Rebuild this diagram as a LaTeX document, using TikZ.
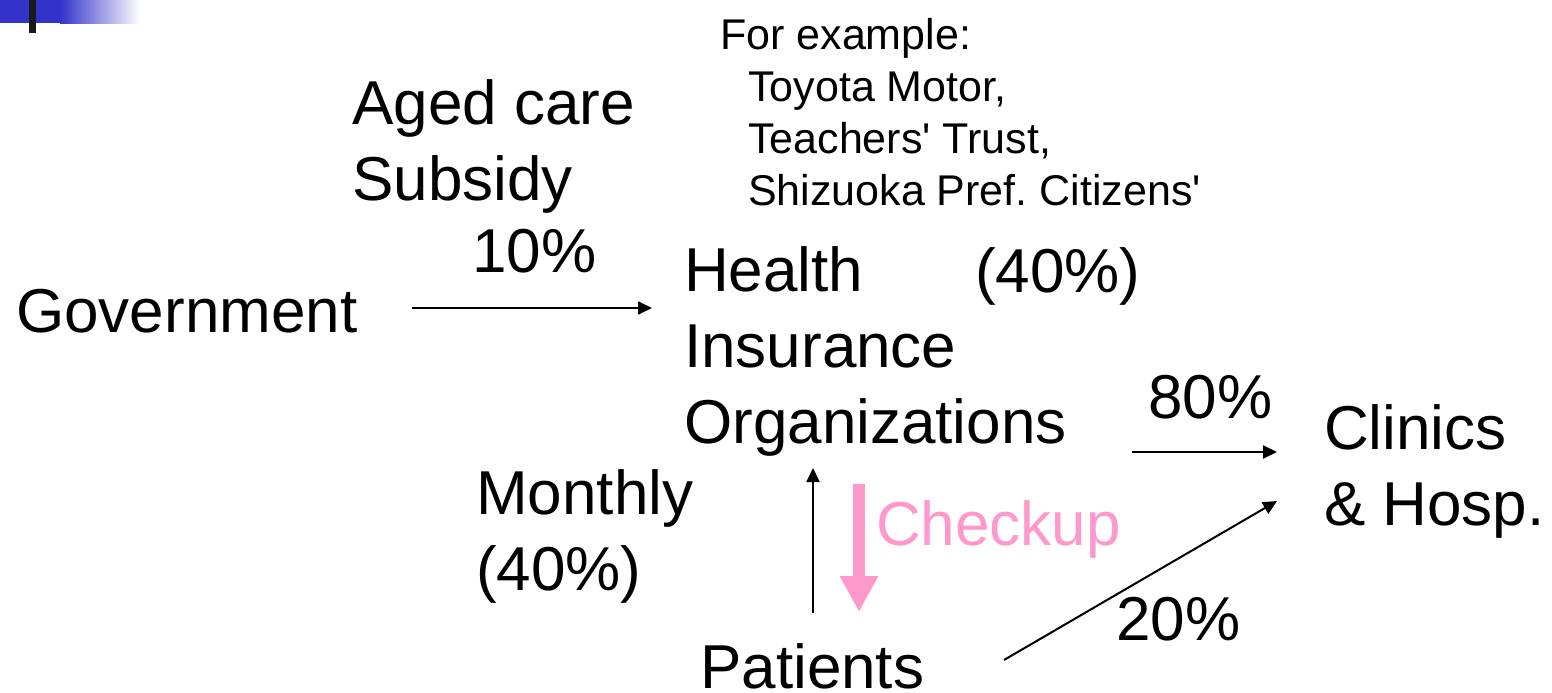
\documentclass[tikz,border=0pt]{standalone}
\usepackage{fontspec}
\setmainfont{Liberation Sans}
\usepackage{xcolor}
\usetikzlibrary{arrows.meta}
\definecolor{slideblue}{HTML}{3333CC}
\definecolor{checkpink}{HTML}{FF99CC}
\frenchspacing

\begin{document}
\begin{tikzpicture}[x=1pt,y=-1pt,
  big/.style={font=\fontsize{62}{76}\selectfont, inner sep=0pt, align=left, anchor=base west},
  small/.style={font=\fontsize{43}{52}\selectfont, inner sep=0pt, align=left, anchor=base west},
  flow/.style={line width=2pt, -{Triangle[length=14pt,width=13pt]}}]
\useasboundingbox (0,0) rectangle (1552,693);
% corner mark
\fill[slideblue] (0,0) rectangle (60,23);
\shade[left color=slideblue, right color=white] (60,0) rectangle (140,24);
\fill[black!90] (29,0) rectangle (36,33);

% labels (multi-line ones sit on the baseline of their last line)
\node[big] (gov) at (16,332) {Government};
\node[big] (subsidy) at (352,200) {Aged care\\Subsidy};
\node[big] (tenpct) at (472,272) {10\%};
\node[small] (example) at (720,205) {For example:\\\hspace*{28pt}Toyota Motor,\\\hspace*{28pt}Teachers\textquotesingle{} Trust,\\\hspace*{28pt}Shizuoka Pref. Citizens\textquotesingle};
\node[big] (hio) at (684,443) {Health\\Insurance\\Organizations};
\node[big] (share) at (975,292) {(40\%)};
\node[big] (eightypct) at (1148,418) {80\%};
\node[big] (clinics) at (1324,525) {Clinics\\\& Hosp.};
\node[big] (monthly) at (476,590) {Monthly\\(40\%)};
\node[big, text=checkpink] (checkup) at (876,545) {Checkup};
\node[big] (twentypct) at (1116,640) {20\%};
\node[big] (patients) at (700,688) {Patients};

% arrow ends
\coordinate (govR) at (412,308);
\coordinate (hioL) at (652,308);
\coordinate (hioR) at (1132,452);
\coordinate (clinL) at (1277,452);
\coordinate (patUp) at (813,613);
\coordinate (hioB) at (813,468);
\coordinate (chkTop) at (859,484);
\coordinate (chkBot) at (859,612);
\coordinate (patR) at (1004,660);
\coordinate (clinBL) at (1277,501);

% money flows
\draw[flow] (govR) -- (hioL);
\draw[flow] (hioR) -- (clinL);
\draw[flow] (patUp) -- (hioB);
\draw[flow] (patR) -- (clinBL);
\draw[checkpink, line width=12pt, -{Triangle[length=36pt,width=36pt]}] (chkTop) -- (chkBot);
\end{tikzpicture}
\end{document}
